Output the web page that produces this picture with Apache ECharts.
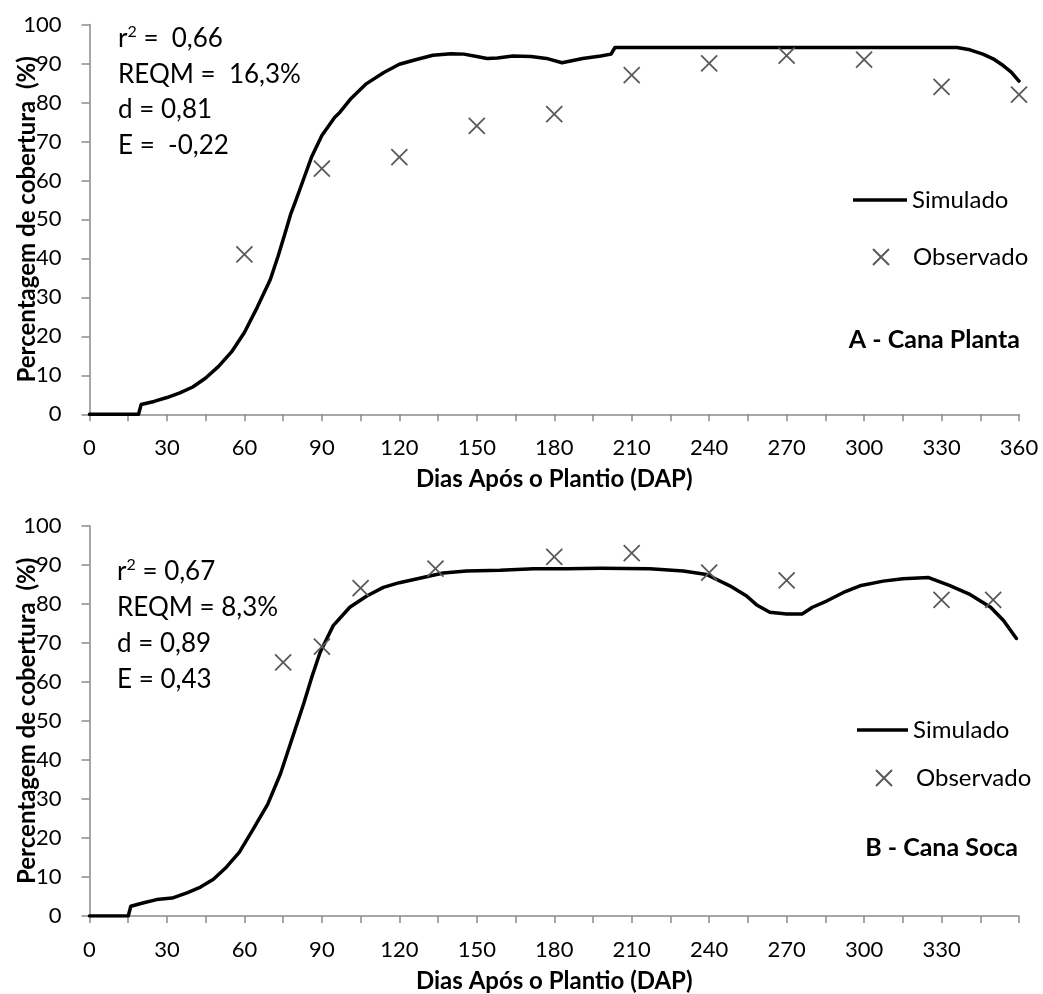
<!DOCTYPE html>
<html><head><meta charset="utf-8">
<script src="https://cdn.jsdelivr.net/npm/echarts@6/dist/echarts.min.js"></script>
<style>html,body{margin:0;padding:0;background:#fff}#c{width:1043px;height:994px}</style>
</head><body><div id="c"></div>
<script>
// ---- Panel A: Cana Planta ----
const simDaysA = [0,19,20,25,30,35,40,45,50,55,60,65,70,73,76,78,80,83,86,90,95,97,101,107,114,120,127,133,140,145,150,154,158,164,171,177,183,191,198,202,203.5,336,341,346,350,354,357,360];
const simValsA = [0,0,2.5,3.3,4.3,5.5,7,9.3,12.3,16,21,27.5,34.5,40.5,47,51.5,55,60.5,66,71.5,76.2,77.5,80.8,84.7,87.7,89.8,91.1,92.1,92.5,92.4,91.8,91.3,91.4,91.9,91.8,91.3,90.2,91.3,91.9,92.4,94.1,94.1,93.5,92.4,91.2,89.4,87.8,85.5];
const obsDaysA = [60,90,120,150,180,210,240,270,300,330,360];
const obsValsA = [41,63,66,74,77,87,90,92,91,84,82];
const statsA = [['r','2',' =  0,66'],['REQM =  16,3%'],['d = 0,81'],['E =  -0,22']];

// ---- Panel B: Cana Soca ----
const simDaysB = [0,15,16,21,26,32,38,43,48,53,58,63,69,74,79,83,86,89.3,94.4,100.8,107.4,113.8,120,127,137,146,159,172,185,198,217,230,239,248,254.5,258.4,263.5,270,276,280,285.5,292,298.4,307.4,315,325,333,341,349,354,359];
const simValsB = [0,0,2.5,3.4,4.2,4.6,6,7.4,9.4,12.5,16.3,21.8,28.6,36.5,46.5,54.5,61,67.5,74.4,79.1,82,84.2,85.4,86.4,87.9,88.4,88.6,89,89,89.1,89,88.4,87.5,84.6,82,79.7,77.8,77.4,77.4,79.1,80.7,82.9,84.6,85.8,86.4,86.7,84.7,82.4,79.1,75.7,71.1];
const obsDaysB = [75,90,105,134,180,210,240,270,330,350];
const obsValsB = [65,69,84,89,92,93,88,86,81,81];
const statsB = [['r','2',' = 0,67'],['REQM = 8,3%'],['d = 0,89'],['E = 0,43']];

const panelTitles = ['A - Cana Planta','B - Cana Soca'];
const xLabelsA = [0,30,60,90,120,150,180,210,240,270,300,330,360];
const xLabelsB = [0,30,60,90,120,150,180,210,240,270,300,330];
const yLabels = [0,10,20,30,40,50,60,70,80,90,100];
const xTitle = 'Dias Após o Plantio (DAP)';
const yTitle = 'Percentagem de cobertura  (%)';

const FONT = 'Lato';
const AX = '#8a8a8a';
const XPATH = 'path://M0,0L10,10M10,0L0,10';
const TICK_FS = 22, ANN_FS = 26, LEG_FS = 24, TITLE_FS = 24;

function pairs(xs, ys){ return xs.map((x,i)=>[x, ys[i]]); }

function xAxisCfg(gi, labels){
  return {
    type:'value', gridIndex:gi, min:0, max:360, interval:15,
    axisLine:{show:true, onZero:false, lineStyle:{color:AX, width:1.5}},
    axisTick:{show:true, inside:false, length:7, lineStyle:{color:AX, width:1.5}},
    splitLine:{show:false},
    axisLabel:{show:true, margin:23, color:'#000', fontFamily:FONT, fontSize:TICK_FS,
      formatter:(v)=> labels.indexOf(v) >= 0 ? String(v) : ''},
    name:xTitle, nameLocation:'middle', nameGap:53, nameMoveOverlap:false,
    nameTextStyle:{color:'#000', fontFamily:FONT, fontSize:TITLE_FS, fontWeight:'bold'}
  };
}
function yAxisCfg(gi){
  return {
    type:'value', gridIndex:gi, min:0, max:100, interval:10,
    axisLine:{show:true, lineStyle:{color:AX, width:1.5}},
    axisTick:{show:true, inside:false, length:8, lineStyle:{color:AX, width:1.5}},
    splitLine:{show:false},
    axisLabel:{show:true, margin:28, color:'#000', fontFamily:FONT, fontSize:TICK_FS,
      formatter:(v)=> yLabels.indexOf(v) >= 0 ? String(v) : ''},
    name:yTitle, nameLocation:'middle', nameGap:50, nameRotate:90, nameMoveOverlap:false,
    nameTextStyle:{color:'#000', fontFamily:FONT, fontSize:TITLE_FS, fontWeight:'bold'}
  };
}
function simSeries(i, xs, ys){
  return {name:'Simulado', type:'line', xAxisIndex:i, yAxisIndex:i, data:pairs(xs,ys),
    showSymbol:false, symbol:'none', smooth:false,
    lineStyle:{color:'#000', width:3.5, join:'round', cap:'round'}, itemStyle:{color:'#000'}, z:3, silent:true};
}
function obsSeries(i, xs, ys){
  return {name:'Observado', type:'scatter', xAxisIndex:i, yAxisIndex:i, data:pairs(xs,ys),
    symbol:XPATH, symbolSize:16,
    itemStyle:{color:'rgba(0,0,0,0)', borderColor:'#595959', borderWidth:1.8, opacity:1}, z:4, silent:true};
}
function statTexts(lines, x, y0, dy){
  return lines.map((parts,i)=>{
    let text;
    if (parts.length === 3) text = '{m|'+parts[0]+'}{s|'+parts[1]+'}{m|'+parts[2]+'}';
    else text = '{m|'+parts[0]+'}';
    return {type:'text', x:x, y:y0+i*dy,
      style:{text:text, fill:'#000', fontFamily:FONT, fontSize:ANN_FS, textVerticalAlign:'middle', textAlign:'left',
        rich:{m:{fontFamily:FONT, fontSize:ANN_FS, lineHeight:30, fill:'#000'},
              s:{fontFamily:FONT, fontSize:16, lineHeight:18, verticalAlign:'top', fill:'#000'}}}};
  });
}
const legTxt = {color:'#000', fontFamily:FONT, fontSize:LEG_FS, lineHeight:28};

const option = {
  backgroundColor:'#fff',
  animation:false,
  grid:[
    {left:89.5, top:24.5, width:929.5, height:389.8},
    {left:89.5, top:525.7, width:929.5, height:395.3}
  ],
  xAxis:[xAxisCfg(0, xLabelsA), xAxisCfg(1, xLabelsB)],
  yAxis:[yAxisCfg(0), yAxisCfg(1)],
  legend:[
    {data:[{name:'Simulado', icon:'rect'}], left:853, top:186, padding:0, itemWidth:54, itemHeight:3.5, textStyle:legTxt},
    {data:['Observado'], left:872, top:243, padding:0, itemWidth:16, itemHeight:16, textStyle:Object.assign({padding:[0,0,0,19]}, legTxt)},
    {data:[{name:'Simulado', icon:'rect'}], left:857, top:716, padding:0, itemWidth:51, itemHeight:3.5, textStyle:legTxt},
    {data:['Observado'], left:875, top:764, padding:0, itemWidth:16, itemHeight:16, textStyle:Object.assign({padding:[0,0,0,19]}, legTxt)}
  ],
  series:[
    simSeries(0, simDaysA, simValsA), obsSeries(0, obsDaysA, obsValsA),
    simSeries(1, simDaysB, simValsB), obsSeries(1, obsDaysB, obsValsB)
  ],
  graphic:[].concat(
    statTexts(statsA, 118, 39, 35.5),
    statTexts(statsB, 117, 572, 36),
    [
      {type:'text', x:1020, y:340, style:{text:panelTitles[0], fill:'#000', fontFamily:FONT, fontSize:25, fontWeight:'bold', textAlign:'right', textVerticalAlign:'middle'}},
      {type:'text', x:1018, y:848, style:{text:panelTitles[1], fill:'#000', fontFamily:FONT, fontSize:25, fontWeight:'bold', textAlign:'right', textVerticalAlign:'middle'}}
    ]
  )
};
const chart = echarts.init(document.getElementById('c'), null, {renderer:'canvas'});
chart.setOption(option);
</script></body></html>
